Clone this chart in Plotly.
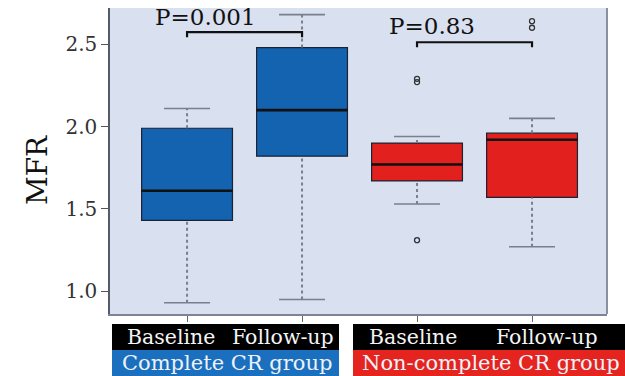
import plotly.graph_objects as go

# Box statistics per group (MFR)
positions = [0, 1, 2, 3]
time_labels = ["Baseline", "Follow-up", "Baseline", "Follow-up"]
group_labels = ["Complete CR group", "Non-complete CR group"]
q1 = [1.43, 1.82, 1.67, 1.57]
median = [1.61, 2.10, 1.77, 1.92]
q3 = [1.99, 2.48, 1.90, 1.96]
lower_fence = [0.93, 0.95, 1.53, 1.27]
upper_fence = [2.11, 2.68, 1.94, 2.05]
outlier_x = [2, 2, 2, 3, 3]
outlier_y = [2.27, 2.29, 1.31, 2.60, 2.64]
p_texts = ["P=0.001", "P=0.83"]
p_pairs = [(0, 1), (2, 3)]
bracket_y = [2.573, 2.512]

fill_colors = ["#1363b0", "#1363b0", "#e2201e", "#e2201e"]
box_width = 0.79
cap_half = 0.2

fig = go.Figure()

for i, x in enumerate(positions):
    # whiskers: dotted grey stems and solid grey caps
    for lo, hi in [(lower_fence[i], q1[i]), (q3[i], upper_fence[i])]:
        fig.add_trace(go.Scatter(
            x=[x, x], y=[lo, hi], mode="lines",
            line=dict(color="#7a7f8c", width=2, dash="dot"),
            hoverinfo="skip", showlegend=False))
    for f in [lower_fence[i], upper_fence[i]]:
        fig.add_trace(go.Scatter(
            x=[x - cap_half, x + cap_half], y=[f, f], mode="lines",
            line=dict(color="#7a7f8c", width=1.6),
            hoverinfo="skip", showlegend=False))
    # box body
    fig.add_trace(go.Box(
        x=[x], q1=[q1[i]], median=[median[i]], q3=[q3[i]],
        lowerfence=[q1[i]], upperfence=[q3[i]],
        width=box_width, fillcolor=fill_colors[i],
        line=dict(color="#1c2233", width=1.2),
        whiskerwidth=0, boxpoints=False, showlegend=False))
    # heavy median line
    fig.add_trace(go.Scatter(
        x=[x - box_width / 2, x + box_width / 2], y=[median[i], median[i]],
        mode="lines", line=dict(color="#111111", width=2.6),
        hoverinfo="skip", showlegend=False))

# outliers
fig.add_trace(go.Scatter(
    x=outlier_x, y=outlier_y, mode="markers",
    marker=dict(symbol="circle-open", size=5, color="#333333",
                line=dict(width=1.3)),
    hoverinfo="skip", showlegend=False))

shapes = []
annotations = []

# significance brackets
for (a, b), yb in zip(p_pairs, bracket_y):
    drop = 0.03
    shapes.append(dict(
        type="path", xref="x", yref="y",
        path=f"M {a},{yb - drop} L {a},{yb} L {b},{yb} L {b},{yb - drop}",
        line=dict(color="#111111", width=2.2)))
annotations.append(dict(x=0.16, y=2.664, xref="x", yref="y", text=p_texts[0],
                        xanchor="center", yanchor="middle",
                        showarrow=False, font=dict(size=23, color="#111111")))
annotations.append(dict(x=2.13, y=2.61, xref="x", yref="y", text=p_texts[1],
                        xanchor="center", yanchor="middle",
                        showarrow=False, font=dict(size=23, color="#111111")))

# label strips under the plot
L, W, B, H = 110, 497, 314, 306


def px(xp):
    return (xp - L) / W


def py(yp):
    return (B - yp) / H


strips = [
    (112, 339, "#000000", "#1a6fbf"),
    (353, 640, "#000000", "#e52420"),
]
for x0, x1, top_col, bot_col in strips:
    shapes.append(dict(type="rect", xref="paper", yref="paper",
                       x0=px(x0), x1=px(x1), y0=py(350), y1=py(324),
                       fillcolor=top_col, line=dict(width=0), layer="above"))
    shapes.append(dict(type="rect", xref="paper", yref="paper",
                       x0=px(x0), x1=px(x1), y0=py(380), y1=py(350),
                       fillcolor=bot_col, line=dict(width=0), layer="above"))

time_centers = [171, 283, 413, 547]
for xc, t in zip(time_centers, time_labels):
    annotations.append(dict(x=px(xc), y=py(337), xref="paper", yref="paper",
                            text=t, showarrow=False,
                            xanchor="center", yanchor="middle",
                            font=dict(size=20.5, color="#f4f4f4")))
group_centers = [227, 491]
for xc, g in zip(group_centers, group_labels):
    annotations.append(dict(x=px(xc), y=py(363), xref="paper", yref="paper",
                            text=g, showarrow=False,
                            xanchor="center", yanchor="middle",
                            font=dict(size=21, color="#eef2f8")))

# y-axis title
annotations.append(dict(x=px(37), y=py(170), xref="paper", yref="paper",
                        text="MFR", textangle=-90, showarrow=False,
                        xanchor="center", yanchor="middle",
                        font=dict(size=28, color="#111111")))

fig.update_layout(
    width=625, height=376,
    margin=dict(l=110, r=18, t=8, b=62),
    paper_bgcolor="white",
    plot_bgcolor="#d9e0ef",
    font=dict(family="DejaVu Serif", color="#333333"),
    shapes=shapes,
    annotations=annotations,
    xaxis=dict(range=[-0.67, 3.652], tickvals=positions, ticktext=["", "", "", ""],
               showgrid=False, zeroline=False, ticks="outside", ticklen=6,
               tickcolor="#666666", showline=True, linecolor="#7d8494",
               linewidth=1.5, mirror=False),
    yaxis=dict(range=[0.862, 2.72], tickvals=[1.0, 1.5, 2.0, 2.5],
               tickformat=".1f", showgrid=False, zeroline=False,
               ticks="outside", ticklen=7, tickcolor="#555555",
               tickfont=dict(size=20, color="#333333"),
               showline=True, linecolor="#555b68", linewidth=1.5),
)

# right-hand border of the panel
fig.add_shape(type="line", xref="paper", yref="paper", x0=1, x1=1, y0=0, y1=1,
              line=dict(color="#8a909c", width=2))

fig.write_html("out.html")
